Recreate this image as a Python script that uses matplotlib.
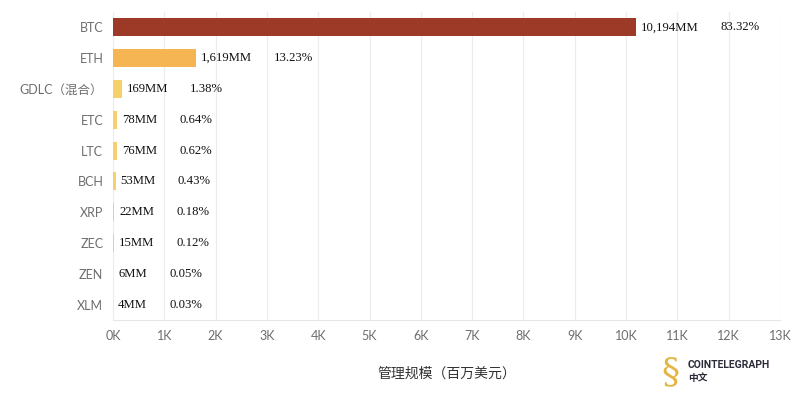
import matplotlib
matplotlib.use('Agg')
import matplotlib.pyplot as plt
from matplotlib.ticker import FuncFormatter

# data
coins = ['BTC', 'ETH', 'GDLC（混合）', 'ETC', 'LTC', 'BCH', 'XRP', 'ZEC', 'ZEN', 'XLM']
aum = [10194, 1619, 169, 78, 76, 53, 22, 15, 6, 4]
value_labels = ['10,194MM', '1,619MM', '169MM', '78MM', '76MM', '53MM', '22MM', '15MM', '6MM', '4MM']
pct_labels = ['83.32%', '13.23%', '1.38%', '0.64%', '0.62%', '0.43%', '0.18%', '0.12%', '0.05%', '0.03%']
colors = ['#9C3A27', '#F6B553'] + ['#F5D06B'] * 8

plt.rcParams['font.family'] = ['Lato', 'Noto Sans CJK SC', 'DejaVu Sans']

fig = plt.figure(figsize=(8, 4), dpi=100)
ax = fig.add_axes([113 / 800, 80 / 400, 667 / 800, 308 / 400])

y = list(range(len(coins)))
ax.barh(y, aum, height=0.58, color=colors, zorder=2)
ax.set_ylim(len(coins) - 0.5, -0.5)
ax.set_xlim(0, 13000)
ax.set_xticks(range(0, 13001, 1000))
ax.xaxis.set_major_formatter(FuncFormatter(lambda v, p: f'{int(v / 1000)}K'))
ax.set_yticks(y)
ax.set_yticklabels(coins)

ax.grid(axis='x', color='#ECECEC', linewidth=0.8, zorder=0)
for s in ['top', 'right', 'left']:
    ax.spines[s].set_visible(False)
ax.spines['bottom'].set_color('#E6E6E6')
ax.tick_params(axis='both', length=0, colors='#6E6E6E', labelsize=9)
ax.tick_params(axis='y', pad=7)
ax.tick_params(axis='x', pad=7)

ax.set_xlabel('管理规模（百万美元）', fontsize=10, color='#333333',
              family=['Noto Sans CJK SC'], labelpad=18)

fig.canvas.draw()
renderer = fig.canvas.get_renderer()
for i in y:
    t = ax.annotate(value_labels[i], (aum[i], i), xytext=(3.6, 0), textcoords='offset points',
                    va='center', ha='left', fontsize=9.2, family='Liberation Serif', color='#111111')
    bb = t.get_window_extent(renderer)
    x_pct = bb.x1 + 22
    xd = ax.transData.inverted().transform((x_pct, 0))[0]
    ax.text(xd, i, pct_labels[i], va='center', ha='left', fontsize=9.2,
            family='Liberation Serif', color='#111111')

# logo text
fig.text(688 / 800, 1 - 365 / 400, 'COINTELEGRAPH', fontsize=7.5, fontweight='bold',
         color='#2B2B3A', va='center', ha='left', family=['Roboto'])
fig.text(688 / 800, 1 - 378 / 400, '中文', fontsize=7, fontweight='bold',
         color='#2B2B3A', va='center', ha='left', family=['Noto Sans CJK SC'])
fig.text(670 / 800, 1 - 372 / 400, '§', fontsize=26, color='#E3B542', va='center', ha='center',
         family=['DejaVu Serif'])

fig.savefig('out.png', dpi=100)
